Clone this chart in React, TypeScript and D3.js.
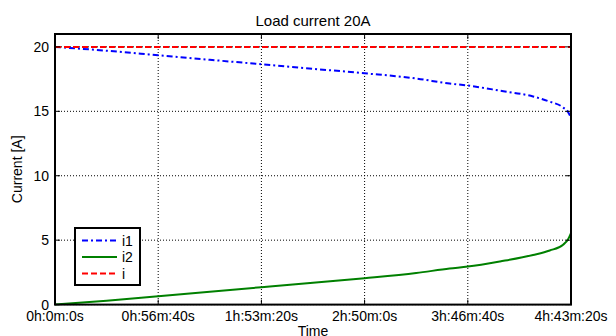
import React from "react";
import * as d3 from "d3";

const timeSec = [0, 1700, 3400, 5100, 6800, 8500, 10200, 11900, 13000, 13600, 14660, 15750, 16300, 16740, 16900, 17000];
const i1Values = [20.0, 19.7, 19.35, 19.0, 18.65, 18.3, 17.95, 17.55, 17.15, 17.0, 16.6, 16.15, 15.75, 15.3, 14.95, 14.5];
const i2Values = [0.0, 0.3, 0.65, 1.0, 1.35, 1.7, 2.05, 2.45, 2.8, 2.95, 3.35, 3.85, 4.2, 4.65, 5.05, 5.55];
const iValues = [20, 20, 20, 20, 20, 20, 20, 20, 20, 20, 20, 20, 20, 20, 20, 20];
const xTicks = [0, 3400, 6800, 10200, 13600, 17000];
const xTickLabels = ["0h:0m:0s", "0h:56m:40s", "1h:53m:20s", "2h:50m:0s", "3h:46m:40s", "4h:43m:20s"];
const yTicks = [0, 5, 10, 15, 20];
const seriesNames = ["i1", "i2", "i"];

const W = 616, H = 336;
const L = 55, R = 571, T = 34, B = 304.6;
const FONT = "'Liberation Sans', Arial, sans-serif";

export default function App() {
  const x = d3.scaleLinear().domain([0, 17000]).range([L, R]);
  const y = d3.scaleLinear().domain([0, 21]).range([B, T]);
  const line = d3.line<number>().x((_, k) => x(timeSec[k])).y((v) => y(v)).curve(d3.curveMonotoneX);
  const series = [
    { name: seriesNames[0], vals: i1Values, color: "#0000ff", dash: "6,3,2,3" },
    { name: seriesNames[1], vals: i2Values, color: "#008000", dash: "" },
    { name: seriesNames[2], vals: iValues, color: "#ff0000", dash: "6,3" },
  ];
  const legX = 75, legY = 228, legW = 65, legH = 57;
  return (
    <svg width={W} height={H} style={{ position: "absolute", left: 0, top: 0, background: "#fff" }} fontFamily={FONT}>
      <rect x={0} y={0} width={W} height={H} fill="#fff" />
      {xTicks.map((t) => (
        <line key={"gx" + t} x1={x(t)} x2={x(t)} y1={T} y2={B} stroke="#000" strokeWidth={1} strokeDasharray="1,2" />
      ))}
      {yTicks.map((t) => (
        <line key={"gy" + t} x1={L} x2={R} y1={y(t)} y2={y(t)} stroke="#000" strokeWidth={1} strokeDasharray="1,2" />
      ))}
      {series.map((s) => (
        <path key={s.name} d={line(s.vals) || ""} fill="none" stroke={s.color} strokeWidth={2} strokeDasharray={s.dash || undefined} />
      ))}
      {xTicks.map((t) => (
        <g key={"tx" + t}>
          <line x1={x(t)} x2={x(t)} y1={B} y2={B - 5} stroke="#000" strokeWidth={1} />
          <line x1={x(t)} x2={x(t)} y1={T} y2={T + 5} stroke="#000" strokeWidth={1} />
        </g>
      ))}
      {yTicks.map((t) => (
        <g key={"ty" + t}>
          <line x1={L} x2={L + 5} y1={y(t)} y2={y(t)} stroke="#000" strokeWidth={1} />
          <line x1={R} x2={R - 5} y1={y(t)} y2={y(t)} stroke="#000" strokeWidth={1} />
        </g>
      ))}
      <rect x={L} y={T} width={R - L} height={B - T} fill="none" stroke="#000" strokeWidth={2} />
      {xTicks.map((t, k) => (
        <text key={"lx" + t} x={x(t)} y={321} fontSize={14} textAnchor="middle">{xTickLabels[k]}</text>
      ))}
      {yTicks.map((t) => (
        <text key={"ly" + t} x={49} y={y(t) + 5} fontSize={14} textAnchor="end">{t}</text>
      ))}
      <text x={(L + R) / 2} y={26} fontSize={15} textAnchor="middle">Load current 20A</text>
      <text x={(L + R) / 2} y={336} fontSize={14} textAnchor="middle">Time</text>
      <text transform={`translate(22,${(T + B) / 2}) rotate(-90)`} fontSize={14} textAnchor="middle">Current [A]</text>
      <rect x={legX} y={legY} width={legW} height={legH} fill="#fff" stroke="#000" strokeWidth={2} />
      {series.map((s, k) => {
        const ly = legY + 12.5 + k * 16.5;
        return (
          <g key={"leg" + s.name}>
            <line x1={legX + 7} x2={legX + 42} y1={ly} y2={ly} stroke={s.color} strokeWidth={2} strokeDasharray={s.dash || undefined} />
            <text x={legX + 47} y={ly + 5} fontSize={14}>{s.name}</text>
          </g>
        );
      })}
    </svg>
  );
}
